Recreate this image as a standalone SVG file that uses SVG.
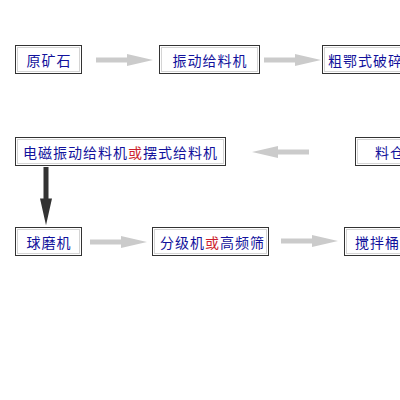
<svg xmlns="http://www.w3.org/2000/svg" xmlns:xlink="http://www.w3.org/1999/xlink" width="400" height="400" viewBox="0 0 400 400">
<style>
.bo{fill:#fff;stroke:#333;stroke-width:1}
.bi{fill:none;stroke:#d4d4d4;stroke-width:1}
.t{font-family:"Noto Sans CJK SC","Liberation Sans",sans-serif;font-size:14px;fill:#12129c;letter-spacing:1px;dominant-baseline:central}
.r{fill:#cc1f2e}
.ga{fill:#cbcbcb}
.da{fill:#333}
</style>
<defs>
<path id="arr" d="M0,-2.5 H31 V-6 L57,0 L31,6 V2.5 H0 Z"/>
</defs>
<rect width="400" height="400" fill="#fff"/>
<g id="connectors">
<use xlink:href="#arr" class="ga" transform="translate(96,60)"/>
<use xlink:href="#arr" class="ga" transform="translate(264,60)"/>
<use xlink:href="#arr" class="ga" transform="translate(309,152) rotate(180)"/>
<use xlink:href="#arr" class="da" transform="translate(46,167) rotate(90) scale(1.02,1)"/>
<use xlink:href="#arr" class="ga" transform="translate(90,242)"/>
<use xlink:href="#arr" class="ga" transform="translate(281,241)"/>
</g>
<g id="n1"><rect class="bo" x="15.5" y="45.5" width="66" height="28"/><rect class="bi" x="17.5" y="47.5" width="62" height="24"/><text class="t" x="49" y="60" text-anchor="middle">原矿石</text></g>
<g id="n2"><rect class="bo" x="159.5" y="45.5" width="100" height="28"/><rect class="bi" x="161.5" y="47.5" width="96" height="24"/><text class="t" x="210" y="60" text-anchor="middle">振动给料机</text></g>
<g id="n3"><rect class="bo" x="322.5" y="45.5" width="100" height="28"/><rect class="bi" x="324.5" y="47.5" width="96" height="24"/><text class="t" x="328" y="60">粗鄂式破碎机</text></g>
<g id="n4"><rect class="bo" x="355.5" y="137.5" width="70" height="28"/><rect class="bi" x="357.5" y="139.5" width="66" height="24"/><text class="t" x="375" y="152">料仓</text></g>
<g id="n5"><rect class="bo" x="15.5" y="137.5" width="210" height="28"/><rect class="bi" x="17.5" y="139.5" width="206" height="24"/><text class="t" x="23" y="152">电磁振动给料机<tspan class="r">或</tspan>摆式给料机</text></g>
<g id="n6"><rect class="bo" x="15.5" y="227.5" width="66" height="28"/><rect class="bi" x="17.5" y="229.5" width="62" height="24"/><text class="t" x="49" y="242" text-anchor="middle">球磨机</text></g>
<g id="n7"><rect class="bo" x="152.5" y="227.5" width="116" height="28"/><rect class="bi" x="154.5" y="229.5" width="112" height="24"/><text class="t" x="160" y="242">分级机<tspan class="r">或</tspan>高频筛</text></g>
<g id="n8"><rect class="bo" x="344.5" y="227.5" width="66" height="28"/><rect class="bi" x="346.5" y="229.5" width="62" height="24"/><text class="t" x="355" y="242">搅拌桶</text></g>
</svg>
